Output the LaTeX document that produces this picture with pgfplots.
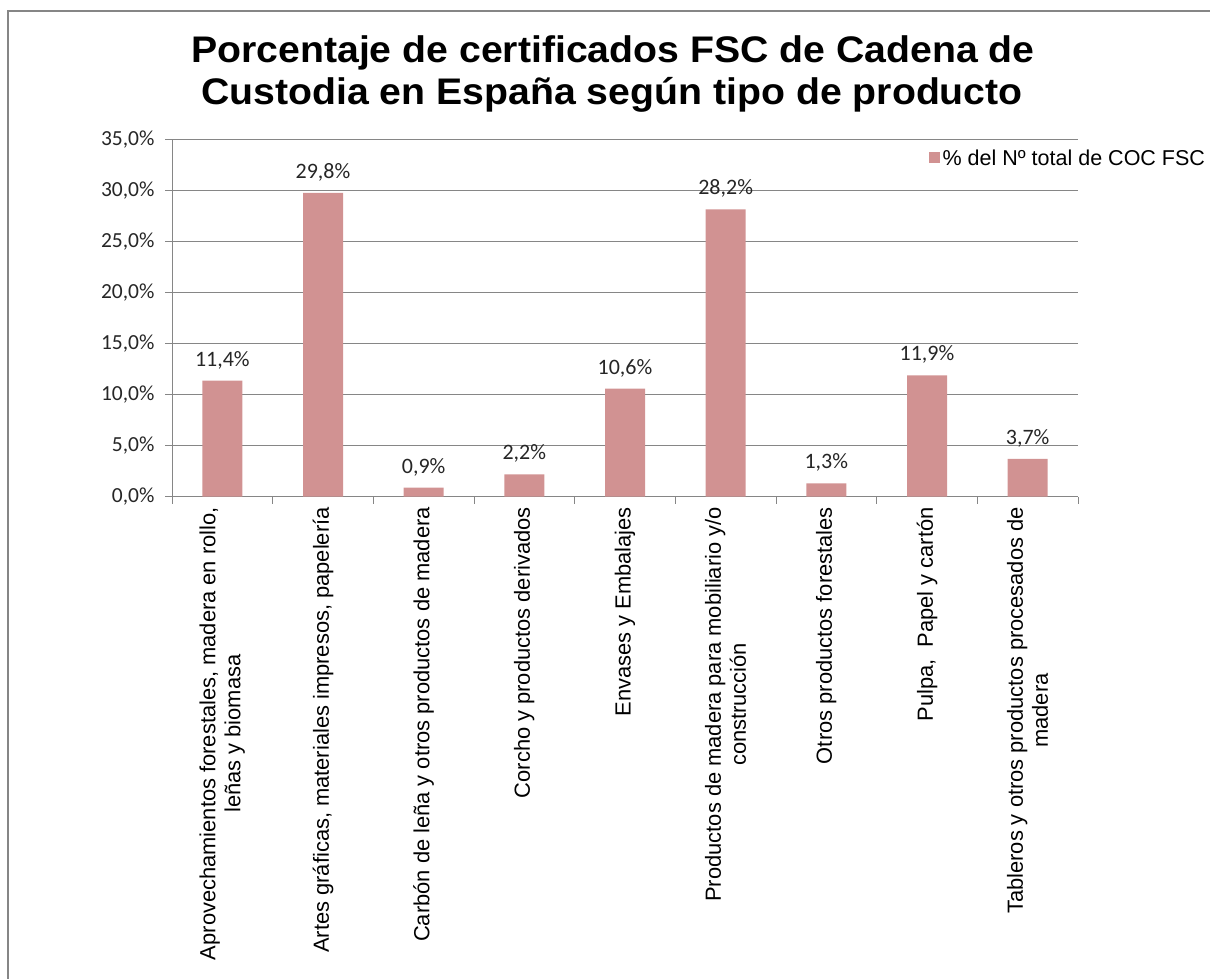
\documentclass[border=0pt]{standalone}
\usepackage{fontspec}
\setmainfont{Liberation Sans}
\newfontfamily\carlito{Carlito}
\usepackage{pgfplots}
\pgfplotsset{compat=1.18}
\definecolor{barRose}{RGB}{209,146,146}
\definecolor{axisGray}{RGB}{134,134,134}
\definecolor{textDark}{RGB}{38,38,38}

\begin{document}
\begin{tikzpicture}[x=1pt,y=1pt]
\useasboundingbox (0,0) rectangle (1210,979);
% outer chart frame (only left and top edges are visible in the crop)
\draw[axisGray, line width=2pt] (8,-5) -- (8,968) -- (1215,968);
\node[anchor=base, xscale=1.06, font=\bfseries\fontsize{37}{43}\selectfont] at (613,916.5)
  {Porcentaje de certificados FSC de Cadena de};
\node[anchor=base, xscale=1.06, font=\bfseries\fontsize{37}{43}\selectfont] at (612,874)
  {Custodia en España según tipo de producto};
\begin{axis}[
    at={(172pt,482.3pt)}, anchor=south west,
    width=906pt, height=356.7pt, scale only axis,
    ybar, bar width=40pt,
    xmin=-0.5, xmax=8.5, ymin=0, ymax=35,
    enlargelimits=false,
    axis lines=left,
    axis line style={axisGray, line width=1pt, -},
    ymajorgrids, grid style={axisGray, line width=1pt},
    tick style={axisGray, line width=1pt},
    tick align=outside,
    major tick length=7pt, minor tick length=7pt,
    major x tick style={draw=none},
    xtick={0,...,8},
    minor xtick={-0.5,0.5,...,8.5},
    xticklabels={
      {Aprovechamientos forestales, madera en rollo,\\leñas y biomasa},
      {Artes gráficas, materiales impresos, papelería},
      {Carbón de leña y otros productos de madera},
      {Corcho y productos derivados},
      {Envases y Embalajes},
      {Productos de madera para mobiliario y/o\\construcción},
      {Otros productos forestales},
      {Pulpa,\ \ Papel y cartón},
      {Tableros y otros productos procesados de\\madera}},
    xticklabel style={rotate=90, anchor=east, align=center,
      font=\fontsize{21.9}{25}\selectfont, text=black},
    ytick={0,5,...,35},
    /pgf/number format/assume math mode=true,
    yticklabel={\pgfmathprintnumber[fixed,fixed zerofill,precision=1,use comma]{\tick}\%},
    yticklabel style={font=\carlito\fontsize{21.5}{24}\selectfont, text=textDark, xshift=-7pt},
    nodes near coords={\pgfmathprintnumber[fixed,fixed zerofill,precision=1,use comma]{\pgfplotspointmeta}\%},
    every node near coord/.append style={font=\carlito\fontsize{22}{24}\selectfont,
      text=textDark, anchor=base, yshift=14.5pt, inner sep=0pt},
    legend style={at={(rel axis cs:0.8355,0.9496)}, anchor=west, draw=none, fill=none,
      inner sep=0pt, font=\fontsize{21.5}{25}\selectfont,
      nodes={inner sep=2.5pt}},
    legend cell align=left,
  ]
  \addplot[fill=barRose, draw=none,
    legend image code/.code={\fill[barRose] (0pt,-5.5pt) rectangle (11pt,5.5pt);}]
    coordinates {(0,11.4) (1,29.8) (2,0.9) (3,2.2) (4,10.6) (5,28.2) (6,1.3) (7,11.9) (8,3.7)};
  \addlegendentry{\% del Nº total de COC FSC}
\end{axis}
\end{tikzpicture}
\end{document}
